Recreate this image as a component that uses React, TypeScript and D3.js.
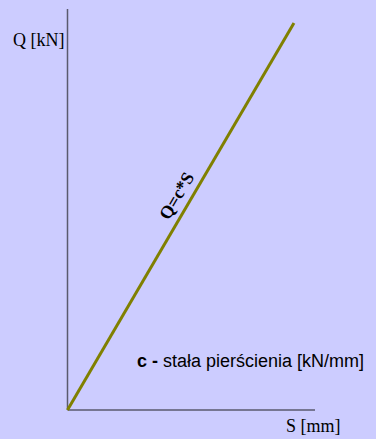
import React from "react";
import * as d3 from "d3";

const W = 376;
const H = 439;

// Data: linear relation Q = c * S
const sValues = [0, 91.5];
const qValues = [0, 96.5];
const axisMax = [100, 100];
const labels = { q: "Q [kN]", s: "S [mm]", formula: "Q=c*S", note: " stała pierścienia [kN/mm]", noteBold: "c -" };

export default function App() {
  const x = d3.scaleLinear().domain([0, axisMax[0]]).range([67.5, 315]);
  const y = d3.scaleLinear().domain([0, axisMax[1]]).range([410, 9]);
  const pts: [number, number][] = sValues.map((s, i) => [s, qValues[i]]);
  const line = d3
    .line<[number, number]>()
    .x((d) => x(d[0]))
    .y((d) => y(d[1]));
  const p0 = [x(sValues[0]), y(qValues[0])];
  const p1 = [x(sValues[1]), y(qValues[1])];
  const angle = (Math.atan2(p1[1] - p0[1], p1[0] - p0[0]) * 180) / Math.PI;
  const f = 0.535;
  const mid = [x(sValues[1] * f), y(qValues[1] * f)];
  return (
    <svg
      width={W}
      height={H}
      style={{ position: "fixed", left: 0, top: 0, background: "#ccccff" }}
    >
      <rect x={0} y={0} width={W} height={H} fill="#ccccff" />
      <line x1={x(0)} y1={y(0)} x2={x(0)} y2={y(axisMax[1])} stroke="#5a5a6e" strokeWidth={1.5} />
      <line x1={x(0)} y1={y(0)} x2={x(axisMax[0])} y2={y(0)} stroke="#5a5a6e" strokeWidth={1.5} />
      <path d={line(pts) || ""} stroke="#808000" strokeWidth={3} fill="none" />
      <text x={13} y={46} fontFamily="Liberation Serif" fontSize={18} fill="#000">
        {labels.q}
      </text>
      <text x={286} y={432} fontFamily="Liberation Serif" fontSize={18} fill="#000">
        {labels.s}
      </text>
      <text
        transform={`translate(${mid[0]},${mid[1]}) rotate(${angle})`}
        y={-8}
        textAnchor="middle"
        fontFamily="Liberation Serif"
        fontWeight="bold"
        fontSize={18}
        fill="#000"
      >
        {labels.formula}
      </text>
      <text x={137} y={366.5} fontFamily="Liberation Sans" fontSize={18} fill="#000">
        <tspan fontWeight="bold">{labels.noteBold}</tspan>
        <tspan>{labels.note}</tspan>
      </text>
    </svg>
  );
}
